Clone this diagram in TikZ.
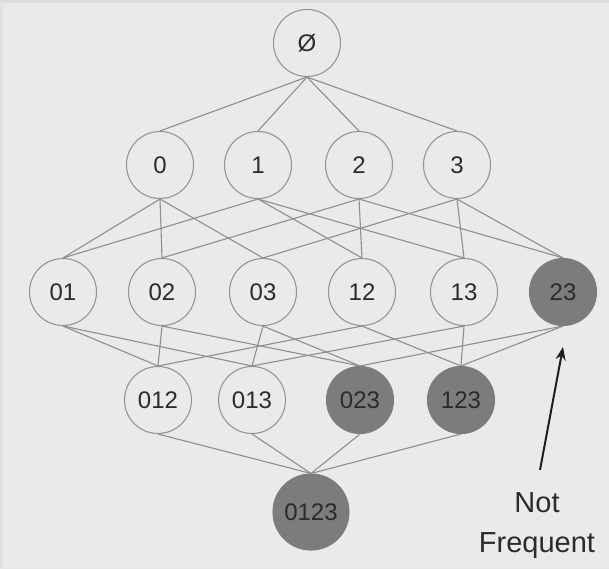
\documentclass[tikz,border=0pt]{standalone}
\usepackage{fontspec}
\setmainfont{Liberation Sans}
\usetikzlibrary{arrows.meta}
\definecolor{bg}{HTML}{E9EBEA}
\definecolor{topband}{HTML}{DCDEDD}
\definecolor{leftband}{HTML}{E0E2E1}
\definecolor{ringgray}{HTML}{959595}
\definecolor{linegray}{HTML}{8E8E8E}
\definecolor{darkfill}{HTML}{7C7C7C}
\definecolor{txt}{HTML}{2B2B2B}
\definecolor{arrowcol}{HTML}{1E1E1E}
\begin{document}
\begin{tikzpicture}[x=1pt,y=-1pt,
  setnode/.style={circle, draw=ringgray, line width=1.1pt, fill=bg, minimum size=67pt, inner sep=0pt, text=txt, font=\fontsize{24}{28}\selectfont},
  rare/.style={setnode, fill=darkfill, draw=darkfill},
  link/.style={draw=linegray, line width=1.1pt},
  note/.style={align=center, text=txt, font=\fontsize{29}{40}\selectfont, inner sep=0pt},
  pointer/.style={draw=arrowcol, line width=2pt, -{Stealth[length=13pt,width=10pt]}}]
\fill[bg] (0,0) rectangle (609,569);
\fill[topband] (0,0) rectangle (609,3);
\fill[leftband] (0,0) rectangle (3,569);
\useasboundingbox (0,0) rectangle (609,569);

% level 0
\node[setnode] (e) at (307,43) {Ø};
% level 1
\node[setnode] (n0) at (160,165) {0};
\node[setnode] (n1) at (258,165) {1};
\node[setnode] (n2) at (359,165) {2};
\node[setnode] (n3) at (457,165) {3};
% level 2
\node[setnode] (n01) at (63,292) {01};
\node[setnode] (n02) at (162,292) {02};
\node[setnode] (n03) at (263,292) {03};
\node[setnode] (n12) at (362,292) {12};
\node[setnode] (n13) at (464,292) {13};
\node[rare] (n23) at (563,292) {23};
% level 3
\node[setnode] (n012) at (158,400) {012};
\node[setnode] (n013) at (252,400) {013};
\node[rare] (n023) at (360,400) {023};
\node[rare] (n123) at (461,400) {123};
% level 4
\node[rare, minimum size=76pt] (n0123) at (311,512) {0123};

% edges
\foreach \b in {n0,n1,n2,n3} \draw[link] (e.south) -- (\b.north);
\foreach \a/\b in {n0/n01,n0/n02,n0/n03,n1/n01,n1/n12,n1/n13,n2/n02,n2/n12,n2/n23,n3/n03,n3/n13,n3/n23}
  \draw[link] (\a.south) -- (\b.north);
\foreach \a/\b in {n01/n012,n01/n013,n02/n012,n02/n023,n03/n013,n03/n023,n12/n012,n12/n123,n13/n013,n13/n123,n23/n023,n23/n123}
  \draw[link] (\a.south) -- (\b.north);
\foreach \a in {n012,n013,n023,n123} \draw[link] (\a.south) -- (n0123.north);

% annotation
\node[note] (lbl) at (537,526) {Not\\Frequent};
\coordinate (tail) at (540,470);
\coordinate (tip) at (563,347);
\draw[pointer] (tail) -- (tip);
\end{tikzpicture}
\end{document}
